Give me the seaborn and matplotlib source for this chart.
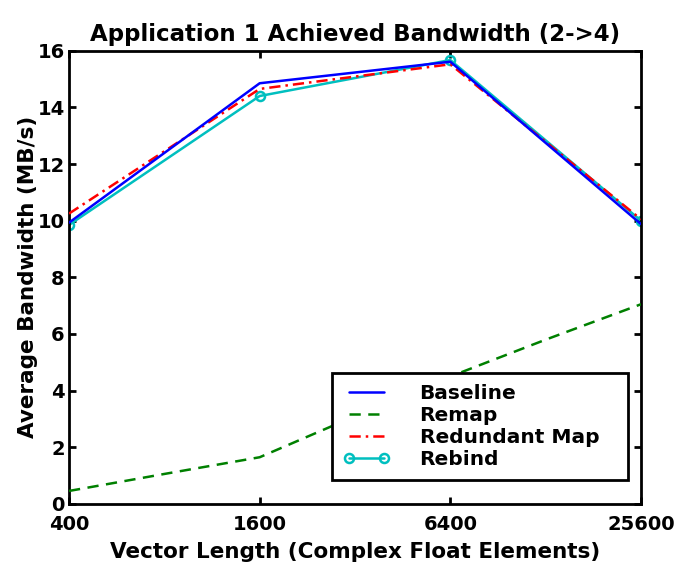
import matplotlib
matplotlib.use("Agg")
import matplotlib.pyplot as plt
import seaborn as sns
import pandas as pd
from matplotlib.ticker import NullLocator, FixedLocator, FixedFormatter

# ---- data ----
x_main = [400, 1600, 6400, 25600]
baseline = [9.93, 14.85, 15.61, 9.88]
redundant = [10.25, 14.65, 15.52, 10.05]
rebind = [9.85, 14.40, 15.67, 10.0]
x_remap = [400, 800, 1600, 3200, 6400, 12800, 25600]
remap = [0.46, 1.06, 1.65, 3.1, 4.5, 5.8, 7.05]

xticks = [400, 1600, 6400, 25600]
xticklabels = ["400", "1600", "6400", "25600"]
yticks = [0, 2, 4, 6, 8, 10, 12, 14, 16]

title = "Application 1 Achieved Bandwidth (2->4)"
xlabel = "Vector Length (Complex Float Elements)"
ylabel = "Average Bandwidth (MB/s)"

sns.set_theme(style="white")
plt.rcParams["font.family"] = ["DejaVu Sans"]
plt.rcParams["font.weight"] = "bold"
for k in ["text.color", "axes.labelcolor", "xtick.color", "ytick.color"]:
    plt.rcParams[k] = "black"

fig = plt.figure(figsize=(6.78, 5.72), dpi=100)
ax = fig.add_axes([0.1018, 0.1189, 0.9454 - 0.1018, 0.9114 - 0.1189])

df_base = pd.DataFrame({"x": x_main, "y": baseline})
df_remap = pd.DataFrame({"x": x_remap, "y": remap})
df_red = pd.DataFrame({"x": x_main, "y": redundant})
df_reb = pd.DataFrame({"x": x_main, "y": rebind})

lw = 1.8
sns.lineplot(data=df_base, x="x", y="y", ax=ax, color="#0000ff", lw=lw,
             label="Baseline", zorder=4)
sns.lineplot(data=df_remap, x="x", y="y", ax=ax, color="#008000", lw=lw,
             label="Remap", zorder=3)
ax.lines[-1].set_dashes([4.5, 3])
sns.lineplot(data=df_red, x="x", y="y", ax=ax, color="#ff0000", lw=lw,
             label="Redundant Map", zorder=3)
ax.lines[-1].set_dashes([4.5, 2, 1, 2])
sns.lineplot(data=df_reb, x="x", y="y", ax=ax, color="#00bfbf", lw=lw,
             marker="o", markersize=6.5, markerfacecolor="none",
             markeredgecolor="#00bfbf", markeredgewidth=1.8,
             label="Rebind", zorder=2)

ax.set_xscale("log")
ax.set_xlim(400, 25600)
ax.set_ylim(0, 16)
ax.xaxis.set_major_locator(FixedLocator(xticks))
ax.xaxis.set_major_formatter(FixedFormatter(xticklabels))
ax.xaxis.set_minor_locator(NullLocator())
ax.set_yticks(yticks)
ax.set_yticklabels([str(v) for v in yticks])

for s in ax.spines.values():
    s.set_visible(True)
    s.set_color("black")
    s.set_linewidth(2.0)

ax.tick_params(axis="both", which="major", direction="in", length=5, width=2,
               top=True, right=True, bottom=True, left=True,
               labelsize=14, colors="black")
ax.tick_params(axis="x", pad=8)
ax.tick_params(axis="y", pad=3)
for lab in ax.get_xticklabels() + ax.get_yticklabels():
    lab.set_fontweight("bold")

ax.set_title(title, fontsize=16.5, fontweight="bold", pad=7)
ax.set_xlabel(xlabel, fontsize=15.5, fontweight="bold", labelpad=6)
ax.set_ylabel(ylabel, fontsize=15.5, fontweight="bold", labelpad=0)

x0 = (332 - 69) / 572
w = (628 - 332) / 572
y0 = (504 - 480) / 453.3
leg = ax.legend(loc="lower left", bbox_to_anchor=(x0, y0, w, 0.3),
                mode="expand", numpoints=2,
                frameon=True, fancybox=False, framealpha=1, edgecolor="black",
                fontsize=14.5, handlelength=2.35, handletextpad=1.45,
                labelspacing=0.15, borderpad=0.55, borderaxespad=0)
leg.get_frame().set_linewidth(2.0)
for t in leg.get_texts():
    t.set_fontweight("bold")

fig.savefig("out.png", dpi=100)
